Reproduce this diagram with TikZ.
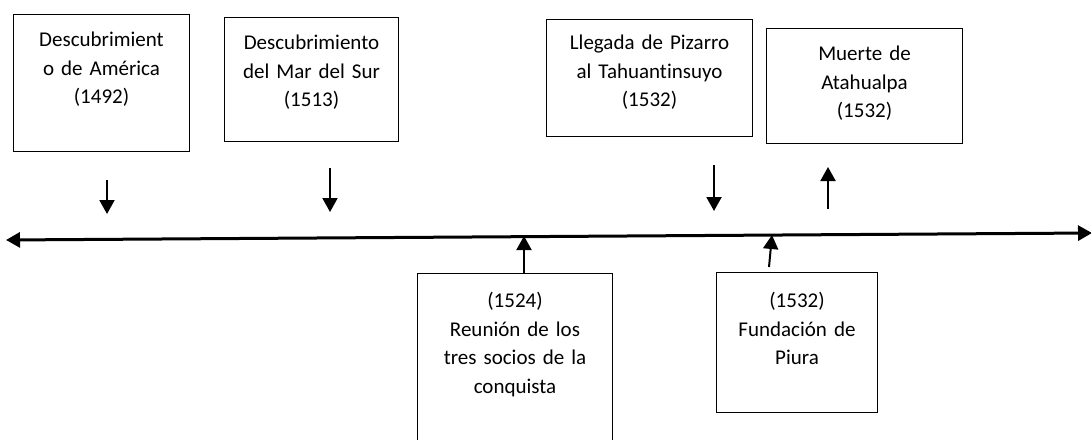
\documentclass[tikz,border=0pt]{standalone}
\usepackage{fontspec}
\setmainfont[Ligatures=NoCommon, RawFeature=-calt]{Carlito}
\usetikzlibrary{arrows.meta}
\newcommand{\evfont}{\fontsize{21}{28.5}\selectfont}
\tikzset{
      evbox/.style={draw=black, line width=1pt, inner sep=0pt, align=center,
            anchor=north west, font=\evfont},
      evarrow/.style={draw=black, line width=2pt, -{Triangle[length=14pt,width=15pt]}},
      timeline/.style={draw=black, line width=3pt,
            {Triangle[length=14pt,width=15pt]}-{Triangle[length=14pt,width=15pt]}},
}
\begin{document}
\begin{tikzpicture}[x=1pt,y=-1pt]
        \useasboundingbox (0,0) rectangle (1091,439);

        % Events above the line
        \node[evbox, text width=176pt, text height=32pt, text depth=105pt] (america) at (13,14)
              {Descubrimient\\o de América\\(1492)};
        \node[evbox, text width=174pt, text height=32pt, text depth=92pt] (marsur) at (224,17)
              {Descubrimiento\\del Mar del Sur\\(1513)};
        \node[evbox, text width=206pt, text height=30pt, text depth=87pt] (pizarro) at (546,19)
              {Llegada de Pizarro\\al Tahuantinsuyo\\(1532)};
        \node[evbox, text width=196pt, text height=32pt, text depth=83pt] (atahualpa) at (766,28)
              {Muerte de\\Atahualpa\\(1532)};

        % Events below the line
        \node[evbox, text width=195pt, text height=34pt, text depth=150pt] (socios) at (417,273)
              {(1524)\\Reunión de los\\tres socios de la\\conquista};
        \node[evbox, text width=161pt, text height=35pt, text depth=105pt] (piura) at (716,272)
              {(1532)\\Fundación de\\Piura};

        % The time line
        \coordinate (tl-start) at (6,240);
        \coordinate (tl-end) at (1092,233);
        \draw[timeline] (tl-start) -- (tl-end);

        % Arrows
        \coordinate (america-a) at (107,180);
        \coordinate (america-b) at (107,214);
        \coordinate (marsur-a) at (330,168);
        \coordinate (marsur-b) at (330,212);
        \coordinate (pizarro-a) at (714,165);
        \coordinate (pizarro-b) at (714,211);
        \coordinate (atahualpa-a) at (828,209);
        \coordinate (atahualpa-b) at (828,167);
        \coordinate (socios-a) at (524,273);
        \coordinate (socios-b) at (524,236);
        \coordinate (piura-a) at (769,267);
        \coordinate (piura-b) at (772,235);

        \draw[evarrow] (america-a) -- (america-b);
        \draw[evarrow] (marsur-a) -- (marsur-b);
        \draw[evarrow] (pizarro-a) -- (pizarro-b);
        \draw[evarrow] (atahualpa-a) -- (atahualpa-b);
        \draw[evarrow] (socios-a) -- (socios-b);
        \draw[evarrow] (piura-a) -- (piura-b);

    \end{tikzpicture}
\end{document}
